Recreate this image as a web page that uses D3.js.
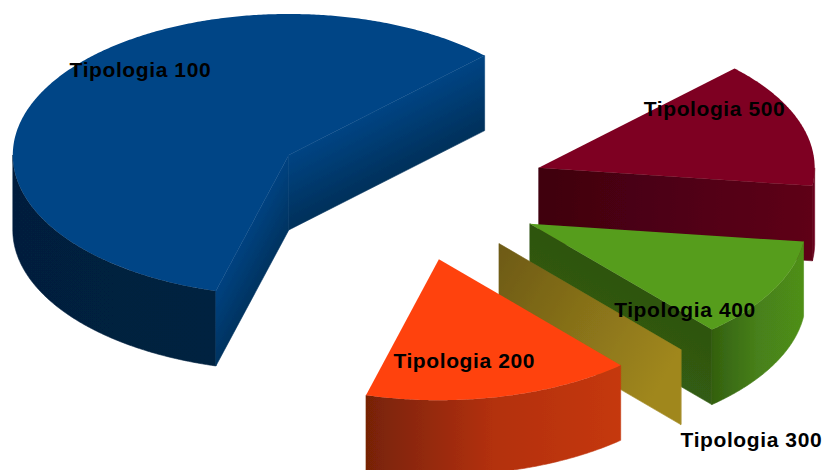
<!DOCTYPE html>
<html><head><meta charset="utf-8">
<script src="https://cdn.jsdelivr.net/npm/d3@7"></script>
<style>html,body{margin:0;background:#fff}svg{display:block}text{font-family:"Liberation Sans",Arial,sans-serif;font-weight:700}</style>
</head><body><svg id="c" width="825" height="470"></svg>
<script>
// data
const categories = ["Tipologia 100","Tipologia 200","Tipologia 300","Tipologia 400","Tipologia 500"];
const shares = [58.3, 15.7, 0.02, 11.5, 14.48];
// styles
const topColors = ["#004586","#ff420e","#a18a1e","#579d1c","#7e0021"];
const rimStops = [["#001f3e","#00213f"],["#772306","#b33010","#c5380d"],["#a18a1e","#a18a1e"],["#33600f","#47801a","#4f8f19"],["#5e0018","#70001d"]];
const faceStops = [["#004483","#00305a"],["#ff420e","#ff420e"],["#6d5a15","#a0871d"],["#2e5410","#325c12"],["#3f000f","#5e0018"]];
const endFaceStops = [["#004280","#003360"],null,null,null,null];
const faceGradAlong = [false,false,true,false,true];
const labelNudges = [[90,-7],[-36.5,-29],[70.5,97],[-88.5,27],[-85.5,-7]];
const drawOrder = [0,4,3,2,1];

// layout
const W=825,H=470,cx=408,cy=190.5,rx=276,ry=141,depth=75,explode=0.5;
const fontSize=21;
const sx=d3.scaleLinear().domain([-1,1]).range([-rx,rx]);
const sy=d3.scaleLinear().domain([-1,1]).range([ry,-ry]);
const deg=Math.PI/180, start=44.8*deg;

const pie=d3.pie().sort(null).startAngle(start).endAngle(start+2*Math.PI);
const arcs=pie(shares).map((a,i)=>{
  const mid=(a.startAngle+a.endAngle)/2;
  return {i,a0:a.startAngle,a1:a.endAngle,mid,
    ox:cx+sx(explode*Math.cos(mid)),oy:cy+sy(explode*Math.sin(mid))};
});
const P=(s,t)=>[s.ox+sx(Math.cos(t)),s.oy+sy(Math.sin(t))];
const samples=(a,b)=>{const n=Math.max(2,Math.ceil((b-a)/(0.5*deg)));return d3.range(n+1).map(k=>a+(b-a)*k/n);};

const svg=d3.select("#c");
const defs=svg.append("defs");
defs.append("filter").attr("id","soft").attr("x","-5%").attr("y","-5%").attr("width","110%").attr("height","110%")
  .append("feGaussianBlur").attr("stdDeviation",0.6);
function grad(id,x1,y1,x2,y2,stops){
  const g=defs.append("linearGradient").attr("id",id).attr("gradientUnits","userSpaceOnUse")
    .attr("x1",x1).attr("y1",y1).attr("x2",x2).attr("y2",y2);
  stops.forEach((c,k)=>g.append("stop").attr("offset",k/(stops.length-1)).attr("stop-color",c));
  return `url(#${id})`;
}
const line=d3.line();
const area=d3.area().x(d=>d[0]).y0(d=>d[1]).y1(d=>d[1]+depth);
const marks=svg.append("g").attr("filter","url(#soft)");

drawOrder.map(i=>arcs[i]).forEach(s=>{
  const g=marks.append("g").attr("class","slice");
  const o=[s.ox,s.oy];
  // outer wall (front half only)
  const lo=Math.max(s.a0,Math.PI),hi=Math.min(s.a1,2*Math.PI);
  if(hi>lo){
    const pts=samples(lo,hi).map(t=>P(s,t));
    const x=d3.extent(pts,d=>d[0]);
    const fill=grad(`r${s.i}`,x[0],0,x[1],0,rimStops[s.i]);
    g.append("path").attr("d",area(pts)).attr("fill",fill).attr("stroke",fill).attr("stroke-width",0.6);
  }
  // radial side faces
  [[s.a0,s.a0-Math.PI/2],[s.a1,s.a1+Math.PI/2]].forEach(([t,n],k)=>{
    if(Math.sin(n)>=0) return;
    const e=P(s,t);
    const len=Math.hypot(e[0]-o[0],e[1]-o[1]);
    const ux=(e[0]-o[0])/len,uy=(e[1]-o[1])/len;
    const stops=(k===1&&endFaceStops[s.i])||faceStops[s.i];
    let fill;
    if(faceGradAlong[s.i]) fill=grad(`f${s.i}${k}`,o[0],o[1],e[0],e[1],stops);
    else {
      let nx=-uy,ny=ux; if(ny<0){nx=-nx;ny=-ny;}
      fill=grad(`f${s.i}${k}`,o[0],o[1],o[0]+nx*depth*ny,o[1]+ny*depth*ny,stops);
    }
    g.append("path").attr("d",area([o,e])).attr("fill",fill).attr("stroke",fill).attr("stroke-width",0.6);
  });
  // top surface
  const top=[o,...samples(s.a0,s.a1).map(t=>P(s,t))];
  g.append("path").attr("d",line(top)+"Z").attr("fill",topColors[s.i]);
});

// labels
svg.append("g").selectAll("text").data(arcs).join("text")
  .attr("x",s=>P(s,s.mid)[0]+labelNudges[s.i][0])
  .attr("y",s=>P(s,s.mid)[1]+labelNudges[s.i][1])
  .attr("text-anchor","middle").attr("font-size",fontSize).attr("letter-spacing",0.6).attr("fill","#000")
  .text(s=>categories[s.i]);
</script></body></html>
